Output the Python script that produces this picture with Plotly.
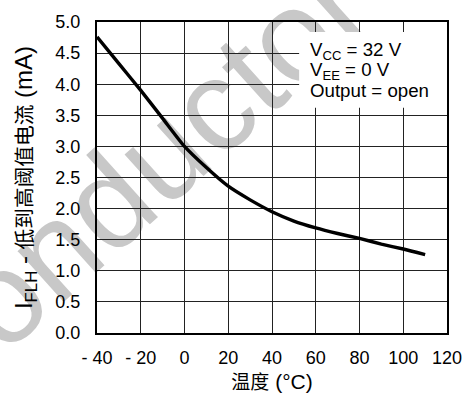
import plotly.graph_objects as go

# Data
temp_c = [-40, -30, -20, -10, 0, 10, 20, 30, 40, 50, 60, 70, 80, 90, 100, 110]
i_flh_ma = [4.76, 4.33, 3.90, 3.45, 3.00, 2.66, 2.36, 2.14, 1.95, 1.80, 1.69, 1.60, 1.52, 1.43, 1.35, 1.26]

x_tickvals = [-40, -20, 0, 20, 40, 60, 80, 100, 120]
x_ticktext = ["- 40", "- 20", "0", "20", "40", "60", "80", "100", "120"]
y_tickvals = [0, 0.5, 1.0, 1.5, 2.0, 2.5, 3.0, 3.5, 4.0, 4.5, 5.0]
y_ticktext = ["0.0", "0.5", "1.0", "1.5", "2.0", "2.5", "3.0", "3.5", "4.0", "4.5", "5.0"]

cond_lines = ["V<sub>CC</sub> = 32 V", "V<sub>EE</sub> = 0 V", "Output = open"]
cond_y = [4.53, 4.21, 3.90]

FONT = "Liberation Sans, Arial, Noto Sans CJK SC, sans-serif"

fig = go.Figure()
fig.add_trace(go.Scatter(
    x=temp_c, y=i_flh_ma, mode="lines",
    line=dict(color="black", width=3.4, shape="spline", smoothing=0.6),
    showlegend=False, hoverinfo="skip",
))

# Watermark behind everything
fig.add_shape(
    type="rect", xref="paper", yref="paper",
    x0=0.11, x1=0.21, y0=0.555, y1=0.655,
    line=dict(width=0), fillcolor="rgba(0,0,0,0)", layer="below",
    label=dict(text="onductor", textangle=-42, textposition="middle center",
               font=dict(family=FONT, size=130, color="#c8c8c8")),
)

# White box behind the condition text (covers gridlines)
fig.add_shape(
    type="rect", xref="x", yref="y",
    x0=52.4, x1=120, y0=3.62, y1=4.84,
    line=dict(width=0), fillcolor="white", layer="between",
)

for txt, yy in zip(cond_lines, cond_y):
    fig.add_annotation(
        x=56.5, y=yy, xref="x", yref="y", xanchor="left", yanchor="middle",
        text=txt, showarrow=False, align="left",
        font=dict(family=FONT, size=18.7, color="black"),
    )

fig.update_xaxes(
    range=[-40, 120], tickvals=x_tickvals, ticktext=x_ticktext,
    showgrid=True, gridcolor="#222", gridwidth=1,
    showline=True, linecolor="black", linewidth=2, mirror=True,
    ticks="", ticklabelstandoff=7, zeroline=False,
    tickfont=dict(family=FONT, size=18, color="black"),
    title=dict(text="<span style='font-size:19px'>温度</span> (°C)",
               font=dict(family=FONT, size=21, color="black"), standoff=8),
)
fig.update_yaxes(
    range=[0, 5], tickvals=y_tickvals, ticktext=y_ticktext,
    showgrid=True, gridcolor="#222", gridwidth=1,
    showline=True, linecolor="black", linewidth=2, mirror=True,
    ticks="", ticklabelstandoff=11, zeroline=False,
    tickfont=dict(family=FONT, size=18, color="black"),
    title=dict(text="I<sub>FLH</sub> - <span style='font-size:20.7px'>低到高阈值电流</span> (mA)",
               font=dict(family=FONT, size=24, color="black"), standoff=16),
)

fig.update_layout(
    width=474, height=403,
    margin=dict(l=97, r=22, t=15, b=70),
    paper_bgcolor="white", plot_bgcolor="rgba(0,0,0,0)",
    showlegend=False,
)

fig.write_html("out.html")
